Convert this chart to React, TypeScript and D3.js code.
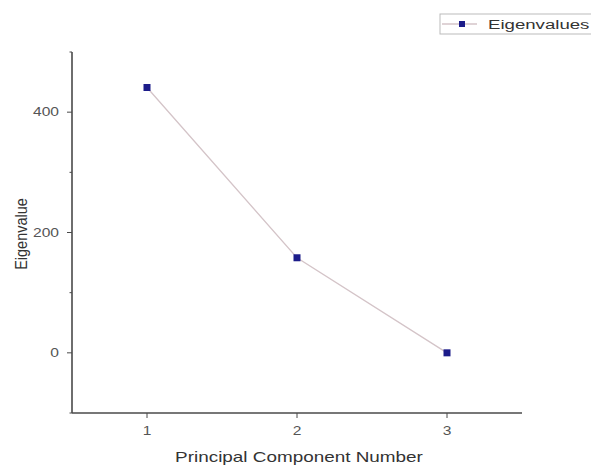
import React from 'react';
import * as d3 from 'd3';

const components = [1, 2, 3];
const eigenvalues = [441, 158, 0];
const yMajorTicks = [0, 200, 400];
const yMinorTicks = [-100, 100, 300, 500];
const seriesName = 'Eigenvalues';
const xTitle = 'Principal Component Number';
const yTitle = 'Eigenvalue';

const width = 591;
const height = 468;
const margin = { top: 52, right: 69, bottom: 55, left: 72 };

export default function App() {
    const ref = React.useRef<SVGSVGElement>(null);

    React.useEffect(() => {
        const svg = d3.select(ref.current);
        svg.selectAll('*').remove();

        const x = d3.scaleLinear([0.5, 3.5], [margin.left, width - margin.right]);
        const y = d3.scaleLinear([-100, 500], [height - margin.bottom, margin.top]);
        const axisColor = '#4a4a4a';
        const font = 'Liberation Sans, Arial, sans-serif';
        const stretch = 1.35; // the picture's text is wider than it is tall

        // axes lines
        svg.append('line')
            .attr('x1', x(0.5)).attr('x2', x(0.5))
            .attr('y1', y(500)).attr('y2', y(-100))
            .attr('stroke', axisColor).attr('stroke-width', 1.6);
        svg.append('line')
            .attr('x1', x(0.5)).attr('x2', x(3.5))
            .attr('y1', y(-100)).attr('y2', y(-100))
            .attr('stroke', axisColor).attr('stroke-width', 1.6);

        // y ticks
        const yg = svg.append('g');
        yg.selectAll('line.major').data(yMajorTicks).join('line')
            .attr('class', 'major')
            .attr('x1', x(0.5) - 5).attr('x2', x(0.5))
            .attr('y1', d => y(d)).attr('y2', d => y(d))
            .attr('stroke', axisColor).attr('stroke-width', 1);
        yg.selectAll('line.minor').data(yMinorTicks).join('line')
            .attr('class', 'minor')
            .attr('x1', x(0.5) - 2.5).attr('x2', x(0.5))
            .attr('y1', d => y(d)).attr('y2', d => y(d))
            .attr('stroke', axisColor).attr('stroke-width', 1);
        yg.selectAll('text').data(yMajorTicks).join('text')
            .attr('transform', d => `translate(${x(0.5) - 13},${y(d)}) scale(1.3,1)`)
            .attr('dy', '0.36em')
            .attr('text-anchor', 'end')
            .attr('font-family', font)
            .attr('font-size', 12)
            .attr('fill', '#555')
            .text(d => d);

        // x ticks
        const xg = svg.append('g');
        xg.selectAll('line').data(components).join('line')
            .attr('x1', d => x(d)).attr('x2', d => x(d))
            .attr('y1', y(-100)).attr('y2', y(-100) + 5)
            .attr('stroke', axisColor).attr('stroke-width', 1);
        xg.selectAll('text').data(components).join('text')
            .attr('transform', d => `translate(${x(d)},${y(-100) + 22}) scale(1.3,1)`)
            .attr('text-anchor', 'middle')
            .attr('font-family', font)
            .attr('font-size', 12)
            .attr('fill', '#555')
            .text(d => d);

        // titles
        svg.append('text')
            .attr('transform', `translate(${(175 + 423) / 2},462) scale(${stretch},1)`)
            .attr('text-anchor', 'middle')
            .attr('font-family', font)
            .attr('font-size', 14)
            .attr('fill', '#333')
            .text(xTitle);
        svg.append('text')
            .attr('transform', `translate(27,234) rotate(-90) scale(1,1.15)`)
            .attr('text-anchor', 'middle')
            .attr('font-family', font)
            .attr('font-size', 14.5)
            .attr('fill', '#333')
            .text(yTitle);

        // series
        const line = d3.line<number>()
            .x((d, i) => x(components[i]))
            .y(d => y(d));
        svg.append('path')
            .datum(eigenvalues)
            .attr('d', line)
            .attr('fill', 'none')
            .attr('stroke', '#d4c4c8')
            .attr('stroke-width', 1.3);
        svg.append('g').selectAll('rect').data(eigenvalues).join('rect')
            .attr('x', (d, i) => x(components[i]) - 3.5)
            .attr('y', d => y(d) - 3.5)
            .attr('width', 7).attr('height', 7)
            .attr('fill', '#1c1c8a');

        // legend
        const lg = svg.append('g').attr('transform', 'translate(440,14)');
        lg.append('rect')
            .attr('x', 0).attr('y', 0).attr('width', 160).attr('height', 20)
            .attr('fill', 'white').attr('stroke', '#bbb').attr('stroke-width', 1);
        lg.append('line')
            .attr('x1', 2).attr('x2', 37).attr('y1', 10).attr('y2', 10)
            .attr('stroke', '#d4c4c8').attr('stroke-width', 1.3);
        lg.append('rect')
            .attr('x', 19).attr('y', 7).attr('width', 6).attr('height', 6)
            .attr('fill', '#1c1c8a');
        lg.append('text')
            .attr('transform', `translate(48,10) scale(1.38,1)`)
            .attr('dy', '0.35em')
            .attr('font-family', font).attr('font-size', 13.5).attr('fill', '#333')
            .text(seriesName);
    }, []);

    return (
        <svg ref={ref} width={width} height={height}
            style={{ position: 'absolute', left: 0, top: 0, background: 'white' }} />
    );
}
